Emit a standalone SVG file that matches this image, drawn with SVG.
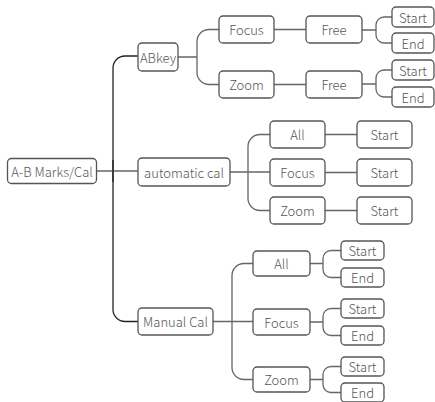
<svg xmlns="http://www.w3.org/2000/svg" width="435" height="402" viewBox="0 0 435 402">
<style>
.n rect{fill:#fff;stroke:#555;stroke-width:1.3}
.n text{font-family:"Noto Sans CJK SC","Noto Sans",sans-serif;font-size:13px;font-weight:300;fill:#555;text-anchor:middle;dominant-baseline:central}
.c path{fill:none;stroke:#666;stroke-width:1.3}
.c .trunk{stroke:#222}
</style>
<rect width="435" height="402" fill="#fff"/>
<g class="c">
<path class="trunk" d="M138,56 H125 A12 12 0 0 0 113,68 V309.5 A12 12 0 0 0 125,321.5 H138"/>
<path d="M96.5,171 H138"/>
<path class="trunk" d="M113,160 V182"/>
<path d="M178,57 H197 M219,29.5 H209 A12 12 0 0 0 197,41.5 V72.5 A12 12 0 0 0 209,84.5 H219"/>
<path d="M274,29.5 H306 M274,84.5 H306"/>
<path d="M362,30 H376 M392,17 H384 A8 8 0 0 0 376,25 V35 A8 8 0 0 0 384,43 H392"/>
<path d="M362,84 H376 M392,70 H384 A8 8 0 0 0 376,78 V89 A8 8 0 0 0 384,97 H392"/>
<path d="M230,172 H270 M270,134.5 H260 A12 12 0 0 0 248,146.5 V198.5 A12 12 0 0 0 260,210.5 H270"/>
<path d="M325,134.5 H357 M325,172.5 H357 M325,210.5 H357"/>
<path d="M213,321.5 H253 M253,263.5 H244 A12 12 0 0 0 232,275.5 V367.5 A12 12 0 0 0 244,379.5 H253"/>
<path d="M310,263.5 H323 M341,250.5 H331 A8 8 0 0 0 323,258.5 V269.5 A8 8 0 0 0 331,277.5 H341"/>
<path d="M310,322 H323 M341,308.5 H331 A8 8 0 0 0 323,316.5 V327.5 A8 8 0 0 0 331,335.5 H341"/>
<path d="M310,379.5 H323 M341,366.5 H331 A8 8 0 0 0 323,374.5 V384.5 A8 8 0 0 0 331,392.5 H341"/>
</g>
<g id="root" class="n"><rect x="7.5" y="158.5" width="89" height="25" rx="4"/><text x="52" y="171">A-B Marks/Cal</text></g>
<g id="abkey" class="n"><rect x="138" y="43" width="40" height="28" rx="4"/><text x="158" y="57">ABkey</text></g>
<g id="ab-focus" class="n"><rect x="219" y="16" width="55" height="27" rx="4"/><text x="246.5" y="29.5">Focus</text></g>
<g id="ab-zoom" class="n"><rect x="219" y="71" width="55" height="27" rx="4"/><text x="246.5" y="84.5">Zoom</text></g>
<g id="ab-focus-free" class="n"><rect x="306" y="16" width="56" height="27" rx="4"/><text x="334" y="29.5">Free</text></g>
<g id="ab-zoom-free" class="n"><rect x="306" y="71" width="56" height="27" rx="4"/><text x="334" y="84.5">Free</text></g>
<g id="ab-focus-start" class="n"><rect x="392" y="7" width="42" height="20" rx="4"/><text x="413" y="17">Start</text></g>
<g id="ab-focus-end" class="n"><rect x="392" y="33" width="42" height="20" rx="4"/><text x="413" y="43">End</text></g>
<g id="ab-zoom-start" class="n"><rect x="392" y="60" width="42" height="20" rx="4"/><text x="413" y="70">Start</text></g>
<g id="ab-zoom-end" class="n"><rect x="392" y="87" width="42" height="20" rx="4"/><text x="413" y="97">End</text></g>
<g id="auto" class="n"><rect x="138" y="158" width="92" height="28" rx="4"/><text x="184" y="172">automatic cal</text></g>
<g id="auto-all" class="n"><rect x="270" y="121" width="55" height="27" rx="4"/><text x="297.5" y="134.5">All</text></g>
<g id="auto-focus" class="n"><rect x="270" y="159" width="55" height="27" rx="4"/><text x="297.5" y="172.5">Focus</text></g>
<g id="auto-zoom" class="n"><rect x="270" y="197" width="55" height="27" rx="4"/><text x="297.5" y="210.5">Zoom</text></g>
<g id="auto-all-start" class="n"><rect x="357" y="121" width="55" height="27" rx="4"/><text x="384.5" y="134.5">Start</text></g>
<g id="auto-focus-start" class="n"><rect x="357" y="159" width="55" height="27" rx="4"/><text x="384.5" y="172.5">Start</text></g>
<g id="auto-zoom-start" class="n"><rect x="357" y="197" width="55" height="27" rx="4"/><text x="384.5" y="210.5">Start</text></g>
<g id="manual" class="n"><rect x="138" y="308" width="75" height="27" rx="4"/><text x="175.5" y="321.5">Manual Cal</text></g>
<g id="man-all" class="n"><rect x="253" y="251" width="57" height="25" rx="4"/><text x="281.5" y="263.5">All</text></g>
<g id="man-focus" class="n"><rect x="253" y="309" width="57" height="26" rx="4"/><text x="281.5" y="322">Focus</text></g>
<g id="man-zoom" class="n"><rect x="253" y="367" width="57" height="25" rx="4"/><text x="281.5" y="379.5">Zoom</text></g>
<g id="man-all-start" class="n"><rect x="341" y="241" width="43" height="19" rx="4"/><text x="362.5" y="250.5">Start</text></g>
<g id="man-all-end" class="n"><rect x="341" y="268" width="43" height="19" rx="4"/><text x="362.5" y="277.5">End</text></g>
<g id="man-focus-start" class="n"><rect x="341" y="299" width="43" height="19" rx="4"/><text x="362.5" y="308.5">Start</text></g>
<g id="man-focus-end" class="n"><rect x="341" y="326" width="43" height="19" rx="4"/><text x="362.5" y="335.5">End</text></g>
<g id="man-zoom-start" class="n"><rect x="341" y="357" width="43" height="19" rx="4"/><text x="362.5" y="366.5">Start</text></g>
<g id="man-zoom-end" class="n"><rect x="341" y="383" width="43" height="19" rx="4"/><text x="362.5" y="392.5">End</text></g>
</svg>
